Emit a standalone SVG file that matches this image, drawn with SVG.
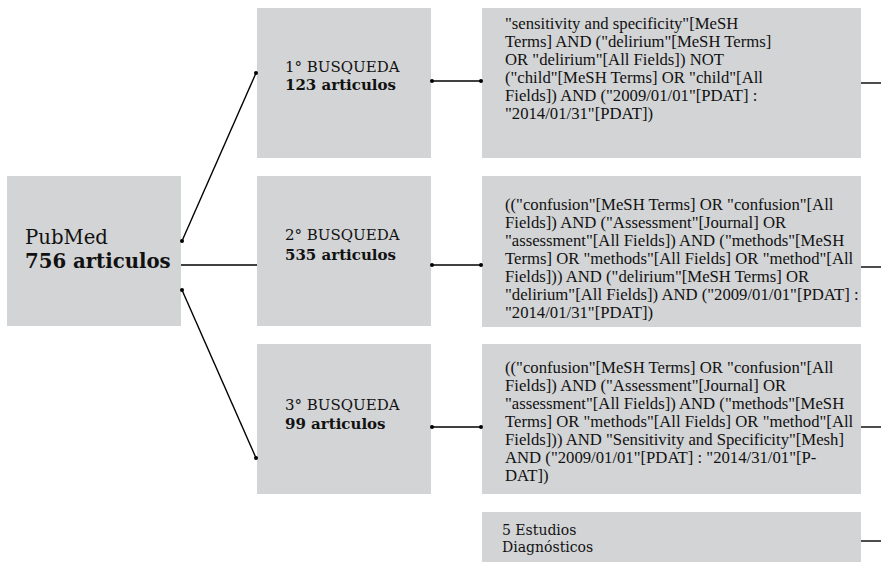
<svg xmlns="http://www.w3.org/2000/svg" width="881" height="567" viewBox="0 0 881 567">
<style>
.box{fill:#d3d4d6;}
.ln{stroke:#000;stroke-width:1.4;fill:none;}
.dot{fill:#000;}
.t{font-family:"DejaVu Serif","Liberation Serif",serif;fill:#111;}
.q{font-family:"Liberation Serif","Times New Roman",serif;font-size:16.7px;fill:#111;}
.b{font-weight:bold;}
</style>
<rect width="881" height="567" fill="#fff"/>
<g id="pubmed">
<rect class="box" x="7" y="176" width="174" height="150"/>
<text class="t" x="25" y="244" font-size="19.7">PubMed</text>
<text class="t b" x="25" y="268" font-size="19.7">756 articulos</text>
</g>
<g id="busqueda1">
<rect class="box" x="257" y="8" width="174" height="150"/>
<text class="t" x="285" y="72" font-size="15">1° BUSQUEDA</text>
<text class="t b" x="285" y="90" font-size="15">123 articulos</text>
</g>
<g id="busqueda2">
<rect class="box" x="257" y="176" width="174" height="150"/>
<text class="t" x="285" y="240" font-size="15">2° BUSQUEDA</text>
<text class="t b" x="285" y="260" font-size="15">535 articulos</text>
</g>
<g id="busqueda3">
<rect class="box" x="257" y="344" width="174" height="150"/>
<text class="t" x="285" y="410" font-size="15">3° BUSQUEDA</text>
<text class="t b" x="285" y="429" font-size="15">99 articulos</text>
</g>
<g id="query1">
<rect class="box" x="482" y="8" width="379" height="150"/>
<text class="q">
<tspan x="505" y="29">"sensitivity and specificity"[MeSH</tspan>
<tspan x="505" y="47">Terms] AND ("delirium"[MeSH Terms]</tspan>
<tspan x="505" y="65">OR "delirium"[All Fields]) NOT</tspan>
<tspan x="505" y="83">("child"[MeSH Terms] OR "child"[All</tspan>
<tspan x="505" y="101">Fields]) AND ("2009/01/01"[PDAT] :</tspan>
<tspan x="505" y="119">"2014/01/31"[PDAT])</tspan>
</text>
</g>
<g id="query2">
<rect class="box" x="482" y="176" width="379" height="151"/>
<text class="q">
<tspan x="505" y="210">(("confusion"[MeSH Terms] OR "confusion"[All</tspan>
<tspan x="505" y="228">Fields]) AND ("Assessment"[Journal] OR</tspan>
<tspan x="505" y="246">"assessment"[All Fields]) AND ("methods"[MeSH</tspan>
<tspan x="505" y="264">Terms] OR "methods"[All Fields] OR "method"[All</tspan>
<tspan x="505" y="282">Fields])) AND ("delirium"[MeSH Terms] OR</tspan>
<tspan x="505" y="300">"delirium"[All Fields]) AND ("2009/01/01"[PDAT] :</tspan>
<tspan x="505" y="318">"2014/01/31"[PDAT])</tspan>
</text>
</g>
<g id="query3">
<rect class="box" x="482" y="344" width="379" height="150"/>
<text class="q">
<tspan x="505" y="373">(("confusion"[MeSH Terms] OR "confusion"[All</tspan>
<tspan x="505" y="391">Fields]) AND ("Assessment"[Journal] OR</tspan>
<tspan x="505" y="409">"assessment"[All Fields]) AND ("methods"[MeSH</tspan>
<tspan x="505" y="427">Terms] OR "methods"[All Fields] OR "method"[All</tspan>
<tspan x="505" y="445">Fields])) AND "Sensitivity and Specificity"[Mesh]</tspan>
<tspan x="505" y="463">AND ("2009/01/01"[PDAT] : "2014/31/01"[P-</tspan>
<tspan x="505" y="481">DAT])</tspan>
</text>
</g>
<g id="resultado">
<rect class="box" x="482" y="512" width="379" height="50"/>
<text class="t" font-size="14">
<tspan x="502" y="535">5 Estudios</tspan>
<tspan x="502" y="552">Diagnósticos</tspan>
</text>
</g>
<g id="connectors">
<line class="ln" x1="182" y1="241" x2="256" y2="73"/>
<line class="ln" x1="181" y1="265" x2="257" y2="265"/>
<line class="ln" x1="182" y1="290" x2="256" y2="458"/>
<circle class="dot" cx="182" cy="241" r="2"/>
<circle class="dot" cx="256" cy="73" r="2"/>
<circle class="dot" cx="182" cy="290" r="2"/>
<circle class="dot" cx="256" cy="458" r="2"/>
<line class="ln" x1="432" y1="81" x2="481" y2="81"/>
<circle class="dot" cx="432" cy="81" r="2"/>
<circle class="dot" cx="481" cy="81" r="2"/>
<line class="ln" x1="432" y1="265" x2="481" y2="265"/>
<circle class="dot" cx="432" cy="265" r="2"/>
<circle class="dot" cx="481" cy="265" r="2"/>
<line class="ln" x1="432" y1="427" x2="481" y2="427"/>
<circle class="dot" cx="432" cy="427" r="2"/>
<circle class="dot" cx="481" cy="427" r="2"/>
<line class="ln" x1="861" y1="83" x2="881" y2="83"/>
<line class="ln" x1="861" y1="267" x2="881" y2="267"/>
<line class="ln" x1="861" y1="427" x2="881" y2="427"/>
<line class="ln" x1="861" y1="541" x2="881" y2="541"/>
</g>
</svg>
